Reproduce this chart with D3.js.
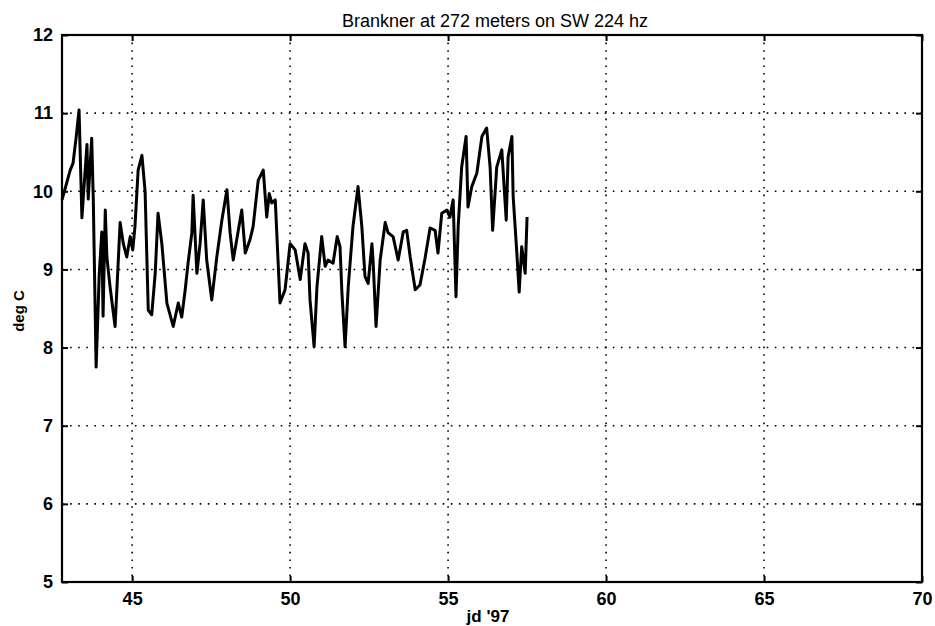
<!DOCTYPE html>
<html>
<head>
<meta charset="utf-8">
<script src="https://cdn.jsdelivr.net/npm/d3@7"></script>
<style>
  body { margin: 0; background: #fff; }
  svg { display: block; font-family: "Liberation Sans", Arial, sans-serif; }
</style>
</head>
<body>
<div id="chart"></div>
<script>
// julian day '97 and temperature (deg C)
const jd = [42.78, 43.04, 43.13, 43.23, 43.32, 43.41, 43.57, 43.61, 43.72, 43.77,
    43.86, 43.96, 44.04, 44.08, 44.15, 44.20, 44.30, 44.46, 44.62, 44.72,
    44.83, 44.94, 45.02, 45.09, 45.19, 45.31, 45.41, 45.51, 45.62, 45.73,
    45.82, 45.94, 46.10, 46.30, 46.46, 46.57, 46.68, 46.77, 46.89, 46.93,
    47.05, 47.15, 47.25, 47.36, 47.52, 47.68, 47.84, 48.00, 48.10, 48.20,
    48.31, 48.47, 48.58, 48.73, 48.83, 48.99, 49.15, 49.26, 49.34, 49.42,
    49.53, 49.68, 49.84, 50.00, 50.16, 50.32, 50.47, 50.57, 50.63, 50.76,
    50.85, 51.00, 51.11, 51.20, 51.36, 51.49, 51.58, 51.64, 51.74, 51.84,
    51.99, 52.15, 52.27, 52.37, 52.47, 52.59, 52.63, 52.72, 52.85, 53.01,
    53.10, 53.26, 53.42, 53.58, 53.69, 53.80, 53.96, 54.11, 54.27, 54.43,
    54.59, 54.68, 54.80, 54.96, 55.06, 55.16, 55.25, 55.32, 55.43, 55.57,
    55.63, 55.75, 55.91, 56.07, 56.22, 56.33, 56.41, 56.54, 56.70, 56.84,
    56.90, 57.02, 57.06, 57.17, 57.25, 57.33, 57.44, 57.50];
const temp = [9.89, 10.27, 10.36, 10.70, 11.04, 9.66, 10.60, 9.90, 10.68, 9.90,
    7.75, 8.95, 9.48, 8.40, 9.76, 9.16, 8.78, 8.27, 9.60, 9.33,
    9.16, 9.42, 9.25, 9.55, 10.27, 10.46, 10.00, 8.48, 8.42, 8.95,
    9.72, 9.33, 8.57, 8.27, 8.57, 8.39, 8.74, 9.08, 9.47, 9.95,
    8.95, 9.33, 9.89, 9.12, 8.61, 9.16, 9.63, 10.02, 9.47, 9.12,
    9.38, 9.76, 9.21, 9.38, 9.55, 10.14, 10.27, 9.67, 9.97, 9.85,
    9.89, 8.57, 8.74, 9.33, 9.25, 8.87, 9.33, 9.21, 8.61, 8.01,
    8.78, 9.42, 9.04, 9.12, 9.08, 9.42, 9.29, 8.70, 8.01, 8.78,
    9.55, 10.06, 9.55, 8.91, 8.82, 9.33, 9.08, 8.27, 9.12, 9.60,
    9.47, 9.42, 9.12, 9.48, 9.50, 9.16, 8.74, 8.80, 9.14, 9.53,
    9.50, 9.21, 9.72, 9.76, 9.67, 9.89, 8.65, 9.55, 10.31, 10.70,
    9.80, 10.06, 10.23, 10.70, 10.81, 10.31, 9.50, 10.31, 10.53, 9.63,
    10.44, 10.70, 9.93, 9.25, 8.71, 9.29, 8.95, 9.67];

const xTicks = [45, 50, 55, 60, 65, 70];
const yTicks = [5, 6, 7, 8, 9, 10, 11, 12];

const width = 935, height = 626;
const margin = {top: 35, right: 13, bottom: 44, left: 62};
const w = width - margin.left - margin.right;
const h = height - margin.top - margin.bottom;

const svg = d3.select("#chart").append("svg")
    .attr("width", width)
    .attr("height", height);

const g = svg.append("g")
    .attr("transform", `translate(${margin.left},${margin.top})`);

const x = d3.scaleLinear().domain([42.78, 70]).range([0, w]);
const y = d3.scaleLinear().domain([5, 12]).range([h, 0]);

// dotted grid
g.append("g").selectAll("line")
    .data(xTicks.filter(d => d < 70))
    .join("line")
    .attr("x1", d => x(d)).attr("x2", d => x(d))
    .attr("y1", 0).attr("y2", h)
    .attr("stroke", "#000")
    .attr("stroke-width", 1.6)
    .attr("stroke-dasharray", "1.6,6");

g.append("g").selectAll("line")
    .data(yTicks.filter(d => d > 5 && d < 12))
    .join("line")
    .attr("x1", 0).attr("x2", w)
    .attr("y1", d => y(d)).attr("y2", d => y(d))
    .attr("stroke", "#000")
    .attr("stroke-width", 1.6)
    .attr("stroke-dasharray", "1.6,6.5");

// data line
const line = d3.line()
    .x(d => x(d[0]))
    .y(d => y(d[1]));

g.append("path")
    .datum(jd.map((d, i) => [d, temp[i]]))
    .attr("d", line)
    .attr("fill", "none")
    .attr("stroke", "#000")
    .attr("stroke-width", 3)
    .attr("stroke-linejoin", "round");

// axes with inward ticks
const fmt = d3.format("d");
const xAxis = g.append("g")
    .attr("transform", `translate(0,${h})`)
    .call(d3.axisBottom(x).tickValues(xTicks).tickSize(-6).tickPadding(10).tickFormat(fmt));
const yAxis = g.append("g")
    .call(d3.axisLeft(y).tickValues(yTicks).tickSize(-6).tickPadding(9).tickFormat(fmt));
g.append("g")
    .call(d3.axisTop(x).tickValues(xTicks).tickSize(-6).tickFormat(""));
g.append("g")
    .attr("transform", `translate(${w},0)`)
    .call(d3.axisRight(y).tickValues(yTicks).tickSize(-6).tickFormat(""));

g.selectAll(".domain").remove();
g.selectAll(".tick line").attr("stroke", "#000").attr("stroke-width", 2);

[xAxis, yAxis].forEach(a => a.selectAll("text")
    .attr("font-family", "'Liberation Sans', Arial, sans-serif")
    .attr("font-size", 18)
    .attr("font-weight", "bold")
    .attr("fill", "#000"));

// box
g.append("rect")
    .attr("width", w).attr("height", h)
    .attr("fill", "none")
    .attr("stroke", "#000")
    .attr("stroke-width", 2.2);

// labels
svg.append("text")
    .attr("x", margin.left + w / 2 + 3)
    .attr("y", 27)
    .attr("text-anchor", "middle")
    .attr("font-size", 18)
    .text("Brankner at 272 meters on SW 224 hz");

svg.append("text")
    .attr("x", 488)
    .attr("y", 622)
    .attr("text-anchor", "middle")
    .attr("font-size", 17)
    .attr("font-weight", "bold")
    .text("jd '97");

svg.append("text")
    .attr("transform", "translate(24,311) rotate(-90)")
    .attr("text-anchor", "middle")
    .attr("font-size", 15)
    .attr("font-weight", "bold")
    .text("deg C");
</script>
</body>
</html>
